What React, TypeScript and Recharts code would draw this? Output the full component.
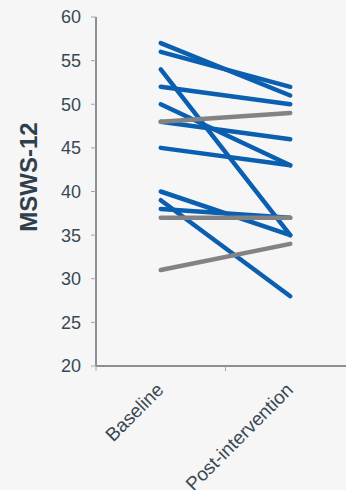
import React from 'react';
import { LineChart, Line, XAxis, YAxis } from 'recharts';

// MSWS-12 score per participant, before and after the intervention
const timepoints = ['Baseline', 'Post-intervention'];
const baseline = [57, 56, 54, 52, 50, 48, 45, 40, 39, 38, 48, 37, 31];
const postIntervention = [51, 52, 35, 50, 43, 46, 43, 35, 28, 37, 49, 37, 34];
// true = improved (score went down), false = no improvement
const improved = [true, true, true, true, true, true, true, true, true, true, false, false, false];
const yTicks = [20, 25, 30, 35, 40, 45, 50, 55, 60];

const BLUE = '#0b5fb0';
const GRAY = '#838383';
const AXIS = '#8c8f93';
const TEXT = '#3a4853';
const FONT = '"Liberation Sans", Arial, sans-serif';

// x positions: band centres at 0.5 and 1.5, band edges at 0, 1, 2
const xTicks = [0, 0.5, 1, 1.5, 2];

const data = timepoints.map((name, i) => {
  const row: Record<string, number | string> = { name, x: i + 0.5 };
  baseline.forEach((b, k) => {
    row[`p${k}`] = i === 0 ? b : postIntervention[k];
  });
  return row;
});

const XTick = (props: any) => {
  const { x, y, payload } = props;
  const v = payload.value as number;
  if (Number.isInteger(v)) {
    return <line x1={x} y1={y} x2={x} y2={y + 5} stroke="#a3a6a9" strokeWidth={1} />;
  }
  const label = timepoints[Math.floor(v)];
  const tx = x + 4;
  const ty = y + 25;
  return (
    <text
      x={tx}
      y={ty}
      transform={`rotate(-45, ${tx}, ${ty})`}
      textAnchor="end"
      fill={TEXT}
      fontSize={19}
      fontFamily={FONT}
    >
      {label}
    </text>
  );
};

const YLabel = () => {
  const cx = 28;
  const cy = 177;
  return (
    <text
      x={cx}
      y={cy}
      transform={`rotate(-90, ${cx}, ${cy})`}
      textAnchor="middle"
      dominantBaseline="central"
      fill="#2f404c"
      fontSize={24}
      fontWeight="bold"
      fontFamily={FONT}
    >
      MSWS-12
    </text>
  );
};

export default function App() {
  return (
    <div
      style={{
        position: 'absolute',
        left: 0,
        top: 0,
        width: 346,
        height: 490,
        overflow: 'hidden',
        background: '#f6f6f6',
      }}
    >
      <LineChart width={360} height={490} data={data} margin={{ top: 17, right: 5, bottom: 0, left: 0 }}>
        <XAxis
          dataKey="x"
          type="number"
          domain={[0, 2]}
          ticks={xTicks}
          interval={0}
          height={124}
          tickSize={0}
          tickMargin={0}
          tickLine={false}
          axisLine={{ stroke: AXIS, strokeWidth: 2 }}
          tick={<XTick />}
        />
        <YAxis
          type="number"
          domain={[20, 60]}
          ticks={yTicks}
          interval={0}
          width={96}
          tickSize={5}
          tickMargin={10}
          axisLine={{ stroke: AXIS, strokeWidth: 2 }}
          tickLine={{ stroke: '#a3a6a9', strokeWidth: 1 }}
          tick={{ fill: TEXT, fontSize: 18, fontFamily: FONT }}
          label={<YLabel />}
        />
        {baseline.map((_, k) => (
          <Line
            key={k}
            type="linear"
            dataKey={`p${k}`}
            stroke={improved[k] ? BLUE : GRAY}
            strokeWidth={4.5}
            strokeLinecap="round"
            dot={false}
            activeDot={false}
            isAnimationActive={false}
          />
        ))}
      </LineChart>
    </div>
  );
}
